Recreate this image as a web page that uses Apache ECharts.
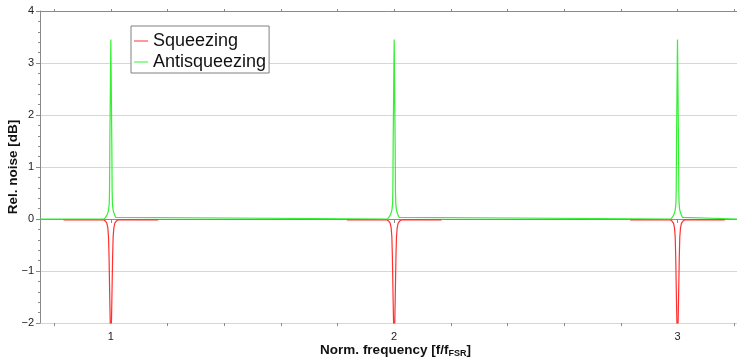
<!DOCTYPE html>
<html>
<head>
<meta charset="utf-8">
<script src="https://cdn.jsdelivr.net/npm/echarts@6/dist/echarts.min.js"></script>
<style>
  html, body { margin: 0; padding: 0; background: #fff; }
  #chart { width: 737px; height: 362px; }
</style>
</head>
<body>
<div id="chart"></div>
<script>
// squeezing / antisqueezing spectrum around the FSR multiples

const seriesNames = ['Squeezing', 'Antisqueezing'];
const peakCentres = [1, 2, 3];
const xMajorTicks = [1, 2, 3];
const xMinorTicks = [0.8, 1.2, 1.4, 1.6, 1.8, 2.2, 2.4, 2.6, 2.8, 3.2];

// offsets from each peak centre
const squeezeOffsets = [-0.167, -0.0265, -0.0194, -0.0141, -0.0106, -0.0081, -0.0064, -0.0035, 0,
    0.0035, 0.0064, 0.0081, 0.0106, 0.0141, 0.0194, 0.0265, 0.167];
const squeezeValues = [-0.015, -0.015, -0.04, -0.08, -0.17, -0.35, -0.7, -1.6, -2.6,
    -1.6, -0.7, -0.35, -0.17, -0.08, -0.04, -0.015, -0.015];

const antiOffsets = [-0.0229, -0.0176, -0.0141, -0.0106, -0.0078, -0.0056, -0.0046, -0.0035, 0,
    0.0035, 0.0046, 0.0056, 0.0078, 0.0106, 0.0141, 0.0176, 0.0229];
const antiValues = [0, 0.03, 0.07, 0.12, 0.18, 0.3, 0.55, 1.45, 3.45,
    1.45, 0.55, 0.3, 0.18, 0.12, 0.07, 0.03, 0];
const antiEnds = [[0.75, 0], [3.21, 0]];

const squeezeData = [];
peakCentres.forEach(function (c, k) {
    if (k > 0) squeezeData.push([c - 0.5, '-']);
    squeezeOffsets.forEach(function (o, i) {
        squeezeData.push([c + o, squeezeValues[i]]);
    });
});

const antiData = [antiEnds[0]];
peakCentres.forEach(function (c) {
    antiOffsets.forEach(function (o, i) {
        antiData.push([c + o, antiValues[i]]);
    });
});
antiData.push(antiEnds[1]);

const axisGray = '#8a8a8a';
const font = 'Liberation Sans, Arial, sans-serif';

const chart = echarts.init(document.getElementById('chart'), null, { renderer: 'canvas' });

const option = {
    backgroundColor: '#ffffff',
    animation: false,
    textStyle: { fontFamily: font },
    grid: { left: 40, right: 0, top: 11, bottom: 39, containLabel: false, outerBoundsMode: 'none' },
    legend: {
        orient: 'vertical',
        left: 131,
        top: 26,
        padding: [6, 3, 2, 3],
        backgroundColor: '#ffffff',
        borderColor: '#808080',
        borderWidth: 1,
        borderRadius: 0,
        icon: 'rect',
        itemWidth: 14,
        itemHeight: 1,
        itemGap: 3,
        itemTextGap: 3,
        textStyle: { fontFamily: font, fontSize: 18, color: '#111', lineHeight: 18 },
        data: seriesNames
    },
    xAxis: [
        {
            type: 'value',
            min: 0.75,
            max: 3.21,
            position: 'bottom',
            name: 'Norm. frequency [f/f{sub|FSR}]',
            nameLocation: 'middle',
            nameGap: 20,
            nameMoveOverlap: false,
            nameTextStyle: {
                fontFamily: font, fontSize: 13.5, fontWeight: 'bold', color: '#111',
                padding: [0, 0, 0, 14],
                rich: {
                    sub: { fontFamily: font, fontSize: 9, fontWeight: 'bold', color: '#111', padding: [6, 0, 0, 0] }
                }
            },
            axisLine: { show: true, lineStyle: { color: axisGray, width: 1 } },
            axisTick: { show: true, customValues: xMajorTicks, length: 4, lineStyle: { color: axisGray } },
            axisLabel: { customValues: xMajorTicks, margin: 8, fontSize: 11, color: '#222', fontFamily: font },
            splitLine: { show: false }
        },
        {
            type: 'value',
            min: 0.75,
            max: 3.21,
            position: 'bottom',
            axisLine: { show: false },
            axisTick: { show: true, customValues: xMinorTicks, length: 3, lineStyle: { color: axisGray } },
            axisLabel: { show: false },
            splitLine: { show: false }
        },
        {
            type: 'value',
            min: 0.75,
            max: 3.21,
            position: 'top',
            axisLine: { show: true, lineStyle: { color: axisGray, width: 1 } },
            axisTick: { show: true, customValues: xMinorTicks.concat(xMajorTicks), length: 2, lineStyle: { color: axisGray } },
            axisLabel: { show: false },
            splitLine: { show: false }
        }
    ],
    yAxis: {
        type: 'value',
        min: -2,
        max: 4,
        interval: 1,
        name: 'Rel. noise [dB]',
        nameLocation: 'middle',
        nameGap: 20,
        nameMoveOverlap: false,
        nameTextStyle: { fontFamily: font, fontSize: 13.5, fontWeight: 'bold', color: '#111' },
        axisLine: { show: true, lineStyle: { color: axisGray, width: 1 } },
        axisTick: { show: true, length: 4, lineStyle: { color: axisGray } },
        minorTick: { show: true, splitNumber: 5, length: 2, lineStyle: { color: axisGray } },
        axisLabel: {
            margin: 6,
            fontSize: 11,
            color: '#222',
            fontFamily: font,
            formatter: function (v) { return String(v).replace('-', '\u2212'); }
        },
        splitLine: { show: true, lineStyle: { color: '#d6d6d6', width: 1 } }
    },
    series: [
        {
            name: seriesNames[0],
            type: 'line',
            xAxisIndex: 0,
            showSymbol: false,
            symbol: 'none',
            connectNulls: false,
            clip: true,
            color: '#ff3030',
            lineStyle: { color: '#ff3030', width: 1.2 },
            data: squeezeData
        },
        {
            name: seriesNames[1],
            type: 'line',
            xAxisIndex: 0,
            showSymbol: false,
            symbol: 'none',
            clip: true,
            color: '#33f033',
            lineStyle: { color: '#33f033', width: 1.2 },
            data: antiData
        }
    ]
};

chart.setOption(option);
</script>
</body>
</html>
